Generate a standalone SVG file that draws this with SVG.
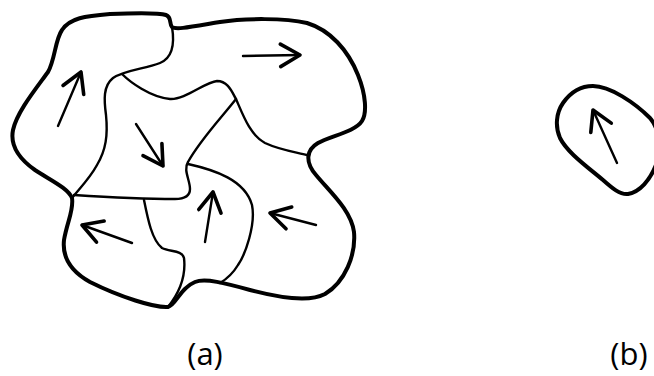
<svg xmlns="http://www.w3.org/2000/svg" width="654" height="376" viewBox="0 0 654 376">
<style>
.outer{fill:none;stroke:#000;stroke-width:4;stroke-linejoin:round;stroke-linecap:round}
.inner{fill:none;stroke:#000;stroke-width:2.4;stroke-linecap:round}
.arr{fill:none;stroke:#000;stroke-width:2.4;stroke-linecap:round;marker-end:url(#v)}
.lbl{font-family:"Open Sans","Liberation Sans",sans-serif;font-size:31px;fill:#000;text-anchor:middle}
</style>
<defs>
<marker id="v" markerUnits="userSpaceOnUse" markerWidth="30" markerHeight="30" viewBox="-16 -10 18 20" refX="0" refY="0" orient="auto">
<path d="M-13,-7.5 L0,0 L-13,7.5" fill="none" stroke="#000" stroke-width="2.4" stroke-linecap="round" stroke-linejoin="round"/>
</marker>
</defs>
<g id="a-outline">
<path class="outer" d="M172,27 C176,30 190,27 220,22 C245,18 285,18 307,23 C330,30 348,50 358,75 C366,95 367,113 362,121 C355,132 330,136 318,143 C306,150 305,162 316,175 C330,192 351,210 354,232 C356,255 345,282 325,294 C310,302 280,298 250,290 C225,283 205,278 195,282 C180,288 176,305 168,307 C155,308 120,297 90,282 C72,272 62,258 64,240 C67,222 74,210 72,198 C68,188 50,180 35,170 C18,158 10,145 13,130 C17,112 35,90 48,72 C55,60 55,40 62,30 C70,18 85,16 110,14 C135,13 160,13 166,15 C172,17 169,24 172,27 Z"/>
</g>
<g id="a-cells">
<path class="inner" d="M172,27 C175,45 172,58 160,63 C145,69 125,70 113,78 C103,86 104,100 106,115 C108,135 106,150 97,165 C90,178 80,188 72,198"/>
<path class="inner" d="M122,74 C130,82 150,97 170,99 C185,100 205,82 217,81 C228,81 232,92 236,99 C243,115 250,135 265,143 C280,150 295,152 307,155"/>
<path class="inner" d="M236,99 C222,117 200,140 188,162 C183,170 190,180 190,189 C190,197 182,199 175,199 C145,199 105,197 74,195"/>
<path class="inner" d="M188,164 C215,170 245,180 252,205 C256,225 245,255 238,265 C232,275 225,280 220,283"/>
<path class="inner" d="M144,200 C148,220 152,240 162,248 C170,252 182,250 184,258 C186,275 180,292 168,307"/>
</g>
<g id="a-arrows">
<line class="arr" x1="58" y1="126" x2="81" y2="72"/>
<line class="arr" x1="243" y1="56" x2="300" y2="55"/>
<line class="arr" x1="136" y1="124" x2="163" y2="166"/>
<line class="arr" x1="132" y1="243" x2="82" y2="225"/>
<line class="arr" x1="205" y1="242" x2="213" y2="192"/>
<line class="arr" x1="316" y1="225" x2="270" y2="213"/>
</g>
<g id="b-cell">
<path class="outer" d="M593,86 C580,86 570,93 563,103 C556,113 555,127 560,138 C567,152 585,165 603,180 C612,188 620,195 628,194 C640,192 650,180 656,165 C662,150 660,130 650,118 C635,103 610,86 593,86 Z"/>
<line class="arr" x1="617" y1="163" x2="593" y2="110"/>
</g>
<g id="labels">
<text class="lbl" x="205" y="365">(a)</text>
<text class="lbl" x="629" y="365">(b)</text>
</g>
</svg>
